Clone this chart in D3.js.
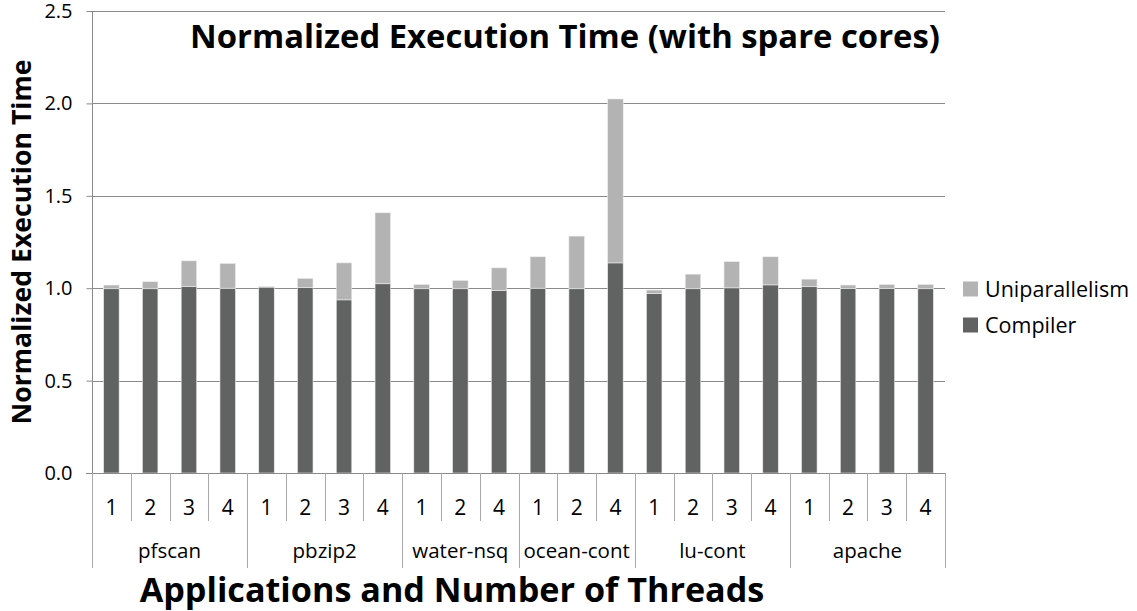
<!DOCTYPE html>
<html>
<head>
<meta charset="utf-8">
<script src="https://cdn.jsdelivr.net/npm/d3@7"></script>
<style>
  html, body { margin: 0; padding: 0; background: #fff; }
  svg { display: block; }
  text { font-family: "Open Sans", "Noto Sans", sans-serif; }
</style>
</head>
<body>
<svg id="chart" width="1137" height="611"></svg>
<script>
// ---- data ----
const groups = ["pfscan", "pbzip2", "water-nsq", "ocean-cont", "lu-cont", "apache"];
const groupOf = [0,0,0,0, 1,1,1,1, 2,2,2, 3,3,3, 4,4,4,4, 5,5,5,5];
const threadLabels = ["1","2","3","4", "1","2","3","4", "1","2","4", "1","2","4", "1","2","3","4", "1","2","3","4"];
const compiler = [0.997,0.997,1.009,1.000, 1.006,1.003,0.937,1.024, 0.997,0.997,0.987, 1.000,0.997,1.137, 0.971,0.997,1.002,1.018, 1.008,0.998,0.998,0.997];
const uniparallelism = [0.020,0.038,0.139,0.134, 0.004,0.050,0.200,0.384, 0.023,0.045,0.123, 0.170,0.285,0.887, 0.019,0.079,0.142,0.152, 0.041,0.019,0.022,0.023];
const yTicks = [0, 0.5, 1.0, 1.5, 2.0, 2.5];
const seriesNames = ["Compiler", "Uniparallelism"];
const seriesColors = {"Compiler": "#616362", "Uniparallelism": "#b3b3b3"};

(function () {
// ---- layout ----
const svg = d3.select("#chart");
const pL = 92, pR = 945, pT = 11, pB = 473;

const rows = compiler.map((c, i) => ({key: i, Compiler: c, Uniparallelism: uniparallelism[i]}));
const stacked = d3.stack().keys(seriesNames)(rows);

const x = d3.scaleBand().domain(d3.range(compiler.length)).range([pL, pR]).paddingInner(0.6).paddingOuter(0.3);
const y = d3.scaleLinear().domain([0, 2.5]).range([pB, pT]);
const step = x.step();

// gridlines
svg.append("g").selectAll("line").data(yTicks.filter(t => t > 0)).join("line")
  .attr("x1", pL).attr("x2", pR)
  .attr("y1", d => Math.round(y(d)) + 0.5).attr("y2", d => Math.round(y(d)) + 0.5)
  .attr("stroke", "#8a8a8a").attr("stroke-width", 1);

// bars
svg.append("g").selectAll("g").data(stacked).join("g")
  .attr("fill", d => seriesColors[d.key])
  .selectAll("rect").data(d => d).join("rect")
  .attr("x", (d, i) => x(i))
  .attr("width", x.bandwidth())
  .attr("y", d => y(d[1]))
  .attr("height", d => y(d[0]) - y(d[1]))
  .attr("stroke", "#ececec").attr("stroke-width", 0.6);

// y axis
const yAxis = d3.axisLeft(y).tickValues(yTicks).tickFormat(d3.format(".1f")).tickSize(6).tickPadding(14);
const yg = svg.append("g").attr("transform", `translate(${pL + 0.5},0)`).call(yAxis);
yg.select(".domain").attr("stroke", "#8a8a8a").attr("d", `M0,${pT}V${pB}`);
yg.selectAll(".tick line").attr("stroke", "#8a8a8a");
yg.selectAll(".tick text").attr("font-size", 20).attr("fill", "#000").attr("font-family", "'Open Sans', sans-serif");

// x axis baseline
svg.append("line").attr("x1", pL - 6).attr("x2", pR)
  .attr("y1", Math.round(pB) + 0.5).attr("y2", Math.round(pB) + 0.5)
  .attr("stroke", "#8a8a8a");

// x category separators
const sepColor = "#a8a8a8";
const boundaries = d3.range(compiler.length + 1);
svg.append("g").selectAll("line").data(boundaries).join("line")
  .attr("x1", i => Math.round(pL + i * step) + 0.5)
  .attr("x2", i => Math.round(pL + i * step) + 0.5)
  .attr("y1", pB)
  .attr("y2", i => (i === 0 || i === compiler.length || groupOf[i] !== groupOf[i - 1]) ? 568 : 521)
  .attr("stroke", sepColor);

// thread labels
svg.append("g").selectAll("text").data(threadLabels).join("text")
  .attr("x", (d, i) => x(i) + x.bandwidth() / 2)
  .attr("y", 508).attr("dy", "0.35em")
  .attr("text-anchor", "middle").attr("font-size", 21).attr("fill", "#000")
  .text(d => d);

// group labels
const groupSpans = groups.map((g, gi) => {
  const idx = groupOf.map((v, i) => v === gi ? i : -1).filter(i => i >= 0);
  return {name: g, start: pL + d3.min(idx) * step, end: pL + (d3.max(idx) + 1) * step};
});
svg.append("g").selectAll("text").data(groupSpans).join("text")
  .attr("x", d => (d.start + d.end) / 2)
  .attr("y", 558)
  .attr("text-anchor", "middle").attr("font-size", 20.5).attr("fill", "#000")
  .text(d => d.name);

// helper to fit bold titles to target width
function fit(sel, width) {
  const w = sel.node().getComputedTextLength();
  const fs = parseFloat(sel.attr("font-size"));
  if (w > 0) sel.attr("font-size", fs * width / w);
}

// chart title
const title = svg.append("text").attr("x", 565).attr("y", 48)
  .attr("text-anchor", "middle").attr("font-weight", "bold").attr("font-size", 30)
  .attr("fill", "#000").text("Normalized Execution Time (with spare cores)");
fit(title, 750);

// x axis title
const xt = svg.append("text").attr("x", 452).attr("y", 602)
  .attr("text-anchor", "middle").attr("font-weight", "bold").attr("font-size", 22)
  .attr("fill", "#000").text("Applications and Number of Threads");
fit(xt, 625);

// y axis title
const ytt = svg.append("text").attr("transform", "translate(31,242) rotate(-90)")
  .attr("text-anchor", "middle").attr("font-weight", "bold").attr("font-size", 22)
  .attr("fill", "#000").text("Normalized Execution Time");
fit(ytt, 365);

// legend
const legendItems = ["Uniparallelism", "Compiler"];
const lg = svg.append("g").selectAll("g").data(legendItems).join("g")
  .attr("transform", (d, i) => `translate(963,${289 + i * 36})`);
lg.append("rect").attr("x", 0).attr("y", -7.5).attr("width", 15).attr("height", 15)
  .attr("fill", d => seriesColors[d]);
lg.append("text").attr("x", 22).attr("y", 0).attr("dy", "0.35em")
  .attr("font-size", 21.5).attr("fill", "#000").text(d => d);
})();
</script>
</body>
</html>
